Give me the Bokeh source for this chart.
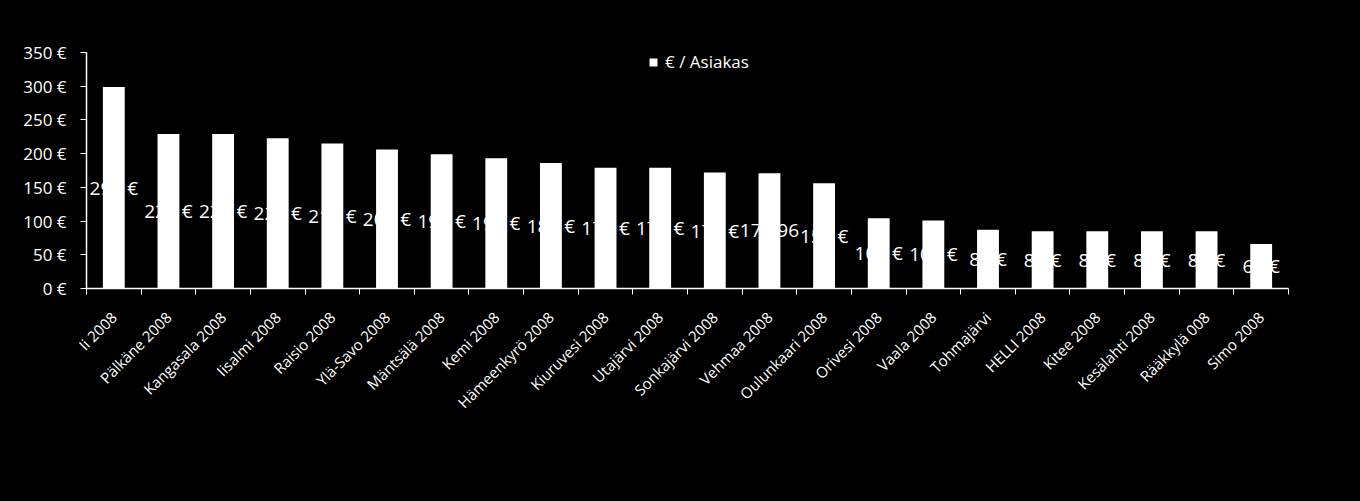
from bokeh.plotting import figure
from bokeh.models import ColumnDataSource, Range1d, FixedTicker, CustomJSTickFormatter
from bokeh.core.properties import value
from bokeh.embed import file_html
from bokeh.resources import INLINE

categories = ["Ii 2008", "Pälkäne 2008", "Kangasala 2008", "Iisalmi 2008", "Raisio 2008",
              "Ylä-Savo 2008", "Mäntsälä 2008", "Kemi 2008", "Hämeenkyrö 2008", "Kiuruvesi 2008",
              "Utajärvi 2008", "Sonkajärvi 2008", "Vehmaa 2008", "Oulunkaari 2008", "Orivesi 2008",
              "Vaala 2008", "Tohmajärvi", "HELLI 2008", "Kitee 2008", "Kesälahti 2008",
              "Rääkkylä 008", "Simo 2008"]
values = [299, 229, 229, 223, 215, 206, 199, 193, 186, 179, 179, 172, 170.96, 156, 104, 101,
          87, 85, 85, 85, 85, 66]
labels = ["299 €", "229 €", "229 €", "223 €", "215 €", "206 €", "199 €", "193 €", "186 €",
          "179 €", "179 €", "172 €", "170,96", "156 €", "104 €", "101 €", "87 €", "85 €",
          "85 €", "85 €", "85 €", "66 €"]
y_ticks = [0, 50, 100, 150, 200, 250, 300, 350]
series_name = "€ / Asiakas"

FONT = "Open Sans"
n = len(categories)
centers = [i + 0.5 for i in range(n)]
source = ColumnDataSource(dict(x=centers, value=values, half=[v / 2 for v in values], label=labels))

p = figure(width=1360, height=501, output_backend="svg", toolbar_location=None,
           x_range=Range1d(0, n), y_range=Range1d(0, 350),
           min_border_left=86, min_border_right=72, min_border_top=52, min_border_bottom=213)
p.background_fill_color = "black"
p.border_fill_color = "black"
p.outline_line_color = None
p.styles = {"background-color": "black"}
p.xgrid.visible = False
p.ygrid.visible = False

# data labels (drawn first, bars cover them)
p.text(x="x", y="half", text="label", source=source, text_color="white",
       text_font=value(FONT), text_font_size="19px", text_align="center", text_baseline="middle")

p.vbar(x="x", top="value", width=0.4, source=source, fill_color="white", line_color=None,
       legend_label=series_name)

xa = p.xaxis[0]
xa.ticker = FixedTicker(ticks=centers, minor_ticks=list(range(n + 1)))
xa.formatter = CustomJSTickFormatter(args=dict(names=categories),
                                     code="return names[Math.floor(tick)] || '';")
xa.major_tick_line_color = None
xa.minor_tick_line_color = "white"
xa.minor_tick_out = 6
xa.minor_tick_in = 0
xa.axis_line_color = "white"
xa.axis_line_width = 1.5
xa.major_label_orientation = 0.785398
xa.major_label_text_color = "white"
xa.major_label_text_font = FONT
xa.major_label_text_font_size = "15px"
xa.major_label_standoff = 20

ya = p.yaxis[0]
ya.ticker = FixedTicker(ticks=y_ticks)
ya.formatter = CustomJSTickFormatter(code="return tick + ' €';")
ya.major_tick_line_color = "white"
ya.major_tick_out = 6
ya.major_tick_in = 0
ya.minor_tick_line_color = None
ya.axis_line_color = "white"
ya.axis_line_width = 1.5
ya.major_label_text_color = "white"
ya.major_label_text_font = FONT
ya.major_label_text_font_size = "17px"
ya.major_label_standoff = 14

lg = p.legend[0]
lg.location = (562, 215)
lg.background_fill_alpha = 0
lg.border_line_color = None
lg.padding = 0
lg.margin = 0
lg.glyph_width = 10
lg.glyph_height = 10
lg.label_height = 20
lg.label_standoff = 7
lg.label_text_color = "white"
lg.label_text_font = FONT
lg.label_text_font_size = "17px"

open("out.html", "w").write(file_html(p, INLINE))
